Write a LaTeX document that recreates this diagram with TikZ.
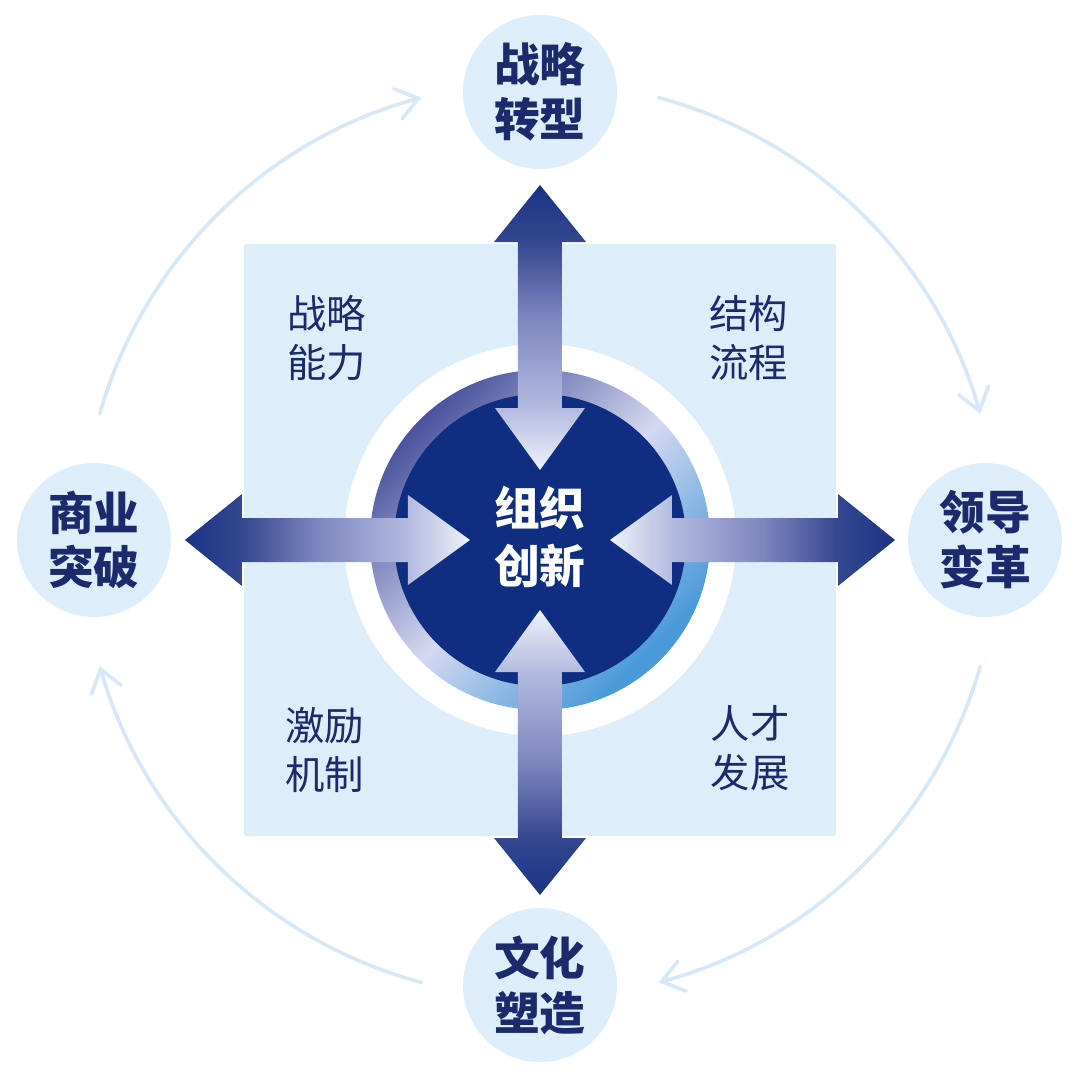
\documentclass[tikz,border=0pt]{standalone}
\usepackage{fontspec}
\newfontfamily\cjk{Noto Sans CJK SC}
\usetikzlibrary{arrows.meta}
\definecolor{navy}{HTML}{0F2E82}
\definecolor{pale}{HTML}{DDEEFA}
\definecolor{arcc}{HTML}{D6E8F8}
\definecolor{txt}{HTML}{1A2A6C}
\definecolor{aA}{HTML}{EEF1FA}
\definecolor{aB}{HTML}{B3BADF}
\definecolor{aC}{HTML}{7D85BE}
\definecolor{aD}{HTML}{34478F}
\definecolor{aE}{HTML}{1A3384}
\definecolor{rdark}{HTML}{4A539C}
\definecolor{rmid}{HTML}{D4D9F0}
\definecolor{rblue}{HTML}{4A9AD9}
\pgfdeclareverticalshading{arrsh}{100bp}{color(0bp)=(aA); color(25bp)=(aA); color(36bp)=(aB); color(52bp)=(aC); color(65bp)=(aD); color(75bp)=(aE); color(100bp)=(aE)}
\pgfdeclareverticalshading{ringsh}{100bp}{color(0bp)=(rblue); color(27bp)=(rblue); color(50bp)=(rmid); color(75bp)=(rdark); color(100bp)=(rdark)}
\begin{document}
\begin{tikzpicture}[x=0.025cm,y=0.025cm,
  circlabel/.style={circle,fill=pale,minimum size=3.85cm,inner sep=0pt,align=center,text=txt,
    font=\cjk\bfseries\fontsize{32.5}{39}\selectfont},
  panellabel/.style={align=center,text=txt,font=\cjk\fontsize{28}{35}\selectfont},
  arcline/.style={draw=arcc,line width=2.6pt,line cap=round,
    -{Straight Barb[length=15pt,width=22pt,line cap=round]}},
  arrowshape/.style={shading=arrsh,draw=none}]
\useasboundingbox (-540,-540) rectangle (540,540);
\fill[white] (-540,-540) rectangle (540,540);

% panel
\fill[pale,rounded corners=2pt] (-296,-296) rectangle (296,296);

% central rings
\fill[white] (0,0) circle[radius=196];
\shade[shading=ringsh,shading angle=45] (0,0) circle[radius=170];
\fill[navy] (0,0) circle[radius=146];

% arrows
\shade[arrowshape] (0,355) -- (46,298) -- (22,298) -- (22,132) -- (45,132) -- (0,70)
  -- (-45,132) -- (-22,132) -- (-22,298) -- (-46,298) -- cycle;
\shade[arrowshape,shading angle=180] (0,-355) -- (46,-298) -- (22,-298) -- (22,-132) -- (45,-132) -- (0,-70)
  -- (-45,-132) -- (-22,-132) -- (-22,-298) -- (-46,-298) -- cycle;
\shade[arrowshape,shading angle=90] (-355,0) -- (-298,46) -- (-298,22) -- (-132,22) -- (-132,45) -- (-70,0)
  -- (-132,-45) -- (-132,-22) -- (-298,-22) -- (-298,-46) -- cycle;
\shade[arrowshape,shading angle=270] (355,0) -- (298,46) -- (298,22) -- (132,22) -- (132,45) -- (70,0)
  -- (132,-45) -- (132,-22) -- (298,-22) -- (298,-46) -- cycle;

% center text
\node[align=center,text=white,font=\cjk\bfseries\fontsize{32.5}{41}\selectfont] (core) at (0,3) {组织\\创新};

% panel labels
\node[panellabel] (p1) at (-213,202) {战略\\能力};
\node[panellabel] (p2) at (209,202) {结构\\流程};
\node[panellabel] (p3) at (-215,-210) {激励\\机制};
\node[panellabel] (p4) at (210,-208) {人才\\发展};

% outer circles
\node[circlabel] (ctop) at (0,448) {战略\\转型};
\node[circlabel] (cright) at (445,0) {领导\\变革};
\node[circlabel] (cbottom) at (0,-445) {文化\\塑造};
\node[circlabel] (cleft) at (-446,0) {商业\\突破};

% cycle arcs
\coordinate (s1) at (75:458);
\coordinate (s2) at (-16:458);
\coordinate (s3) at (-105:458);
\coordinate (s4) at (164:458);
\draw[arcline] (s1) arc[start angle=75,end angle=16,radius=458];
\draw[arcline] (s2) arc[start angle=-16,end angle=-75,radius=458];
\draw[arcline] (s3) arc[start angle=-105,end angle=-164,radius=458];
\draw[arcline] (s4) arc[start angle=164,end angle=105,radius=458];
\end{tikzpicture}
\end{document}
